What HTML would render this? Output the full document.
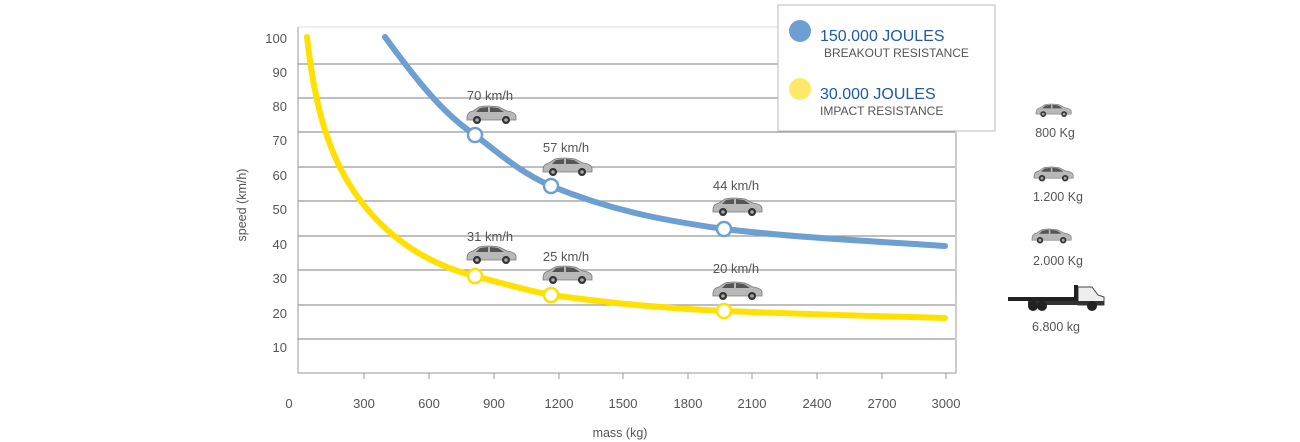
<!DOCTYPE html>
<html><head><meta charset="utf-8"><style>
body{margin:0;background:#fff;}
svg{display:block;font-family:"Liberation Sans",Arial,sans-serif;}
</style></head><body>
<svg width="1300" height="442" viewBox="0 0 1300 442">
<defs>
<g id="car">
<path d="M0,12 Q0,6 6,5 L12,1 Q20,-1 32,1 L40,5 Q48,6 49,10 L49,14 L0,14 Z" fill="#b8b8b8" stroke="#777" stroke-width="0.8"/>
<path d="M13,2 L21,1 L21,6 L9,6 Z M23,1 L31,2 L37,6 L23,6 Z" fill="#555"/>
<circle cx="10" cy="14" r="4" fill="#333"/><circle cx="39" cy="14" r="4" fill="#333"/>
<circle cx="10" cy="14" r="1.8" fill="#aaa"/><circle cx="39" cy="14" r="1.8" fill="#aaa"/>
</g>
</defs>
<!-- frame -->
<path d="M298,27 V373 H956 V27" fill="none" stroke="#aaa" stroke-width="1.2"/>
<line x1="298" y1="27" x2="956" y2="27" stroke="#ddd" stroke-width="1"/>
<g stroke="#999" stroke-width="1.2">
<line x1="298" y1="64" x2="955" y2="64"/>
<line x1="298" y1="98" x2="955" y2="98"/>
<line x1="298" y1="132" x2="955" y2="132"/>
<line x1="298" y1="167" x2="955" y2="167"/>
<line x1="298" y1="201" x2="955" y2="201"/>
<line x1="298" y1="236" x2="955" y2="236"/>
<line x1="298" y1="270" x2="955" y2="270"/>
<line x1="298" y1="305" x2="955" y2="305"/>
<line x1="298" y1="339" x2="955" y2="339"/>
</g>
<g stroke="#999" stroke-width="1">
<line x1="364" y1="373" x2="364" y2="379"/><line x1="429" y1="373" x2="429" y2="379"/><line x1="494" y1="373" x2="494" y2="379"/><line x1="559" y1="373" x2="559" y2="379"/><line x1="623" y1="373" x2="623" y2="379"/><line x1="688" y1="373" x2="688" y2="379"/><line x1="752" y1="373" x2="752" y2="379"/><line x1="817" y1="373" x2="817" y2="379"/><line x1="882" y1="373" x2="882" y2="379"/><line x1="946" y1="373" x2="946" y2="379"/>
</g>
<g fill="#555" font-size="13" text-anchor="end">
<text x="287" y="43">100</text><text x="287" y="77">90</text><text x="287" y="111">80</text><text x="287" y="145">70</text><text x="287" y="180">60</text><text x="287" y="214">50</text><text x="287" y="249">40</text><text x="287" y="283">30</text><text x="287" y="318">20</text><text x="287" y="352">10</text>
</g>
<g fill="#555" font-size="13" text-anchor="middle">
<text x="289" y="408">0</text><text x="364" y="408">300</text><text x="429" y="408">600</text><text x="494" y="408">900</text><text x="559" y="408">1200</text><text x="623" y="408">1500</text><text x="688" y="408">1800</text><text x="752" y="408">2100</text><text x="817" y="408">2400</text><text x="882" y="408">2700</text><text x="946" y="408">3000</text>
<text x="620" y="437" font-size="12.5">mass (kg)</text>
</g>
<text transform="translate(246,205) rotate(-90)" fill="#555" font-size="12.5" text-anchor="middle">speed (km/h)</text>
<!-- curves -->
<path d="M385,37 C420,85 445,115 475,135 C505,158 520,172 551,186 C610,210 660,220 724,229 C800,238 870,241 945,246" fill="none" stroke="#6d9fd2" stroke-width="6" stroke-linecap="round"/>
<path d="M307,37 C315,110 330,160 360,200 C390,240 430,265 475,276 C505,284 525,290 551,295 C610,303 660,308 724,311 C800,314 870,316 945,318" fill="none" stroke="#ffe000" stroke-width="6" stroke-linecap="round"/>
<g fill="#fff" stroke-width="2.5">
<circle cx="475" cy="135" r="7" stroke="#6d9fd2"/><circle cx="551" cy="186" r="7" stroke="#6d9fd2"/><circle cx="724" cy="229" r="7" stroke="#6d9fd2"/>
<circle cx="475" cy="276" r="7" stroke="#ffe000"/><circle cx="551" cy="295" r="7" stroke="#ffe000"/><circle cx="724" cy="311" r="7" stroke="#ffe000"/>
</g>
<g fill="#555" font-size="13" text-anchor="middle">
<text x="490" y="100">70 km/h</text><text x="566" y="152">57 km/h</text><text x="736" y="190">44 km/h</text>
<text x="490" y="241">31 km/h</text><text x="566" y="261">25 km/h</text><text x="736" y="273">20 km/h</text>
</g>
<use href="#car" x="467" y="106"/><use href="#car" x="543" y="158"/><use href="#car" x="713" y="198"/>
<use href="#car" x="467" y="246"/><use href="#car" x="543" y="266"/><use href="#car" x="713" y="282"/>
<!-- legend -->
<rect x="778" y="5" width="217" height="126" fill="#fff" stroke="#bbb" stroke-width="1"/>
<circle cx="800" cy="31" r="11" fill="#6d9fd2"/>
<circle cx="800" cy="89" r="11" fill="#ffe968"/>
<text x="820" y="41" fill="#1f5aa6" font-size="16">150.000 JOULES</text>
<text x="824" y="57" fill="#555" font-size="12">BREAKOUT RESISTANCE</text>
<text x="820" y="99" fill="#1f5aa6" font-size="16">30.000 JOULES</text>
<text x="820" y="115" fill="#555" font-size="12">IMPACT RESISTANCE</text>
<!-- right side -->
<use href="#car" transform="translate(1036,104) scale(0.72)"/>
<use href="#car" transform="translate(1034,167) scale(0.8)"/>
<use href="#car" transform="translate(1032,229) scale(0.8)"/>
<g transform="translate(1008,285)">
<rect x="0" y="12" width="70" height="4" fill="#222"/>
<path d="M70,2 L84,2 L90,10 L96,12 L96,20 L70,20 Z" fill="#eee" stroke="#444" stroke-width="1"/>
<rect x="66" y="0" width="4" height="16" fill="#222"/>
<rect x="20" y="16" width="76" height="4" fill="#333"/>
<circle cx="25" cy="21" r="5" fill="#222"/><circle cx="34" cy="21" r="5" fill="#222"/><circle cx="84" cy="21" r="5" fill="#222"/>
</g>
<g fill="#555" font-size="12.5" text-anchor="middle">
<text x="1055" y="137">800 Kg</text><text x="1058" y="201">1.200 Kg</text><text x="1058" y="265">2.000 Kg</text><text x="1056" y="331">6.800 kg</text>
</g>
</svg>
</body></html>
